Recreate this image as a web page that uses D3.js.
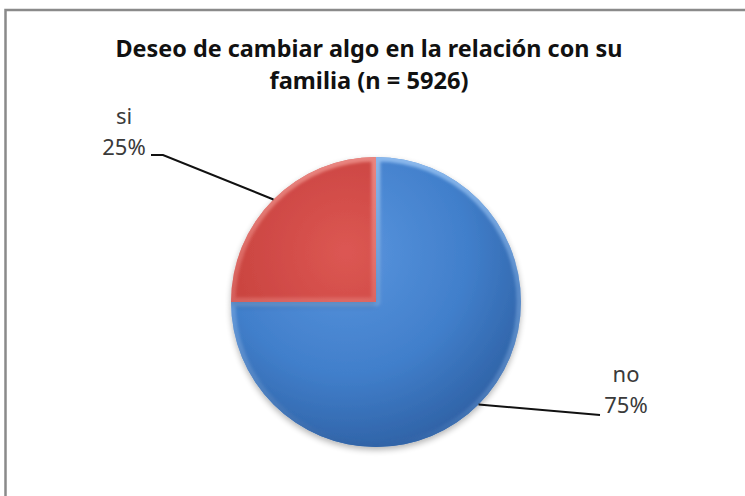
<!DOCTYPE html>
<html>
<head>
<meta charset="utf-8">
<script src="https://cdn.jsdelivr.net/npm/d3@7"></script>
<style>
  html, body { margin: 0; padding: 0; background: #fff; }
  svg { display: block; }
</style>
</head>
<body>
<div id="chart"></div>
<script>
// data
const categories = ["no", "si"];
const values = [75, 25];
const percentLabels = ["75%", "25%"];
const titleLines = ["Deseo de cambiar algo en la relación con su", "familia (n = 5926)"];

const width = 745;
const height = 496;
const cx = 376, cy = 302, radius = 145;

const svg = d3.select("#chart").append("svg")
    .attr("width", width)
    .attr("height", height);

// frame (only top and left visible in the crop)
svg.append("path")
    .attr("d", `M5.5,${height} L5.5,10 L${width},10`)
    .attr("fill", "none")
    .attr("stroke", "#8a8a8a")
    .attr("stroke-width", 2.5);

const defs = svg.append("defs");

const palette = {
    no: { light: "#5a95de", mid: "#417fcb", dark: "#2f62a6", edge: "#9cc6f5" },
    si: { light: "#dc5753", mid: "#c9433f", dark: "#a03330", edge: "#f09690" }
};

// gradients live in the pie group's coordinates (centre at 0,0)
categories.forEach(c => {
    const p = palette[c];
    const g = defs.append("radialGradient")
        .attr("id", "grad-" + c)
        .attr("gradientUnits", "userSpaceOnUse")
        .attr("cx", -30).attr("cy", -50)
        .attr("r", radius * 1.4);
    g.append("stop").attr("offset", "0%").attr("stop-color", p.light);
    g.append("stop").attr("offset", "60%").attr("stop-color", p.mid);
    g.append("stop").attr("offset", "100%").attr("stop-color", p.dark);

    const e = defs.append("linearGradient")
        .attr("id", "edge-" + c)
        .attr("gradientUnits", "userSpaceOnUse")
        .attr("x1", 0).attr("y1", -radius)
        .attr("x2", 0).attr("y2", radius);
    e.append("stop").attr("offset", "0%").attr("stop-color", p.edge).attr("stop-opacity", 0.8);
    e.append("stop").attr("offset", "45%").attr("stop-color", p.edge).attr("stop-opacity", 0.35);
    e.append("stop").attr("offset", "100%").attr("stop-color", p.dark).attr("stop-opacity", 0.9);
});

const shadow = defs.append("filter").attr("id", "shadow")
    .attr("x", "-20%").attr("y", "-20%").attr("width", "140%").attr("height", "150%");
shadow.append("feGaussianBlur").attr("in", "SourceAlpha").attr("stdDeviation", 3);
shadow.append("feOffset").attr("dx", 0).attr("dy", 3).attr("result", "b");
shadow.append("feComponentTransfer").append("feFuncA").attr("type", "linear").attr("slope", 0.3);
const merge = shadow.append("feMerge");
merge.append("feMergeNode");
merge.append("feMergeNode").attr("in", "SourceGraphic");

const soften = defs.append("filter").attr("id", "soften");
soften.append("feGaussianBlur").attr("stdDeviation", 1.6);

const pie = d3.pie().sort(null).value(d => d.value);
const slices = pie(categories.map((c, i) => ({ name: c, value: values[i], label: percentLabels[i] })));

const arc = d3.arc().innerRadius(0).outerRadius(radius);
const rimArc = d3.arc().innerRadius(radius).outerRadius(radius);

const pieG = svg.append("g")
    .attr("transform", `translate(${cx},${cy})`);

slices.forEach((d, i) => {
    defs.append("clipPath").attr("id", "clip-" + i)
        .append("path").attr("d", arc(d));
});

pieG.selectAll("path.slice")
    .data(slices)
    .join("path")
    .attr("class", "slice")
    .attr("filter", "url(#shadow)")
    .attr("d", arc)
    .attr("fill", d => `url(#grad-${d.data.name})`);

// bevel edge, clipped inside each slice
pieG.selectAll("g.bevel")
    .data(slices)
    .join("g")
    .attr("class", "bevel")
    .attr("clip-path", (d, i) => `url(#clip-${i})`)
    .append("path")
    .attr("d", arc)
    .attr("fill", "none")
    .attr("stroke", d => `url(#edge-${d.data.name})`)
    .attr("stroke-width", 9)
    .attr("stroke-linejoin", "round")
    .attr("filter", "url(#soften)");

// leader lines and labels
const labelLayout = {
    no: { bend: [600, 415], textX: 626, line1: 382, line2: 413 },
    si: { bend: [163, 155], end: [151, 155], textX: 124, line1: 124, line2: 155 }
};

slices.forEach(d => {
    const lay = labelLayout[d.data.name];
    const [px, py] = rimArc.centroid(d);
    const pts = [[cx + px, cy + py], lay.bend];
    if (lay.end) pts.push(lay.end);
    svg.append("path")
        .attr("d", d3.line()(pts))
        .attr("fill", "none")
        .attr("stroke", "#111")
        .attr("stroke-width", 2);

    const t = svg.append("text")
        .attr("text-anchor", "middle")
        .attr("font-family", "'Noto Sans', 'Open Sans', sans-serif")
        .attr("font-size", 22)
        .attr("fill", "#3a3a3a");
    t.append("tspan").attr("x", lay.textX).attr("y", lay.line1).text(d.data.name);
    t.append("tspan").attr("x", lay.textX).attr("y", lay.line2).text(d.data.label);
});

// title
const titleLen = [507, 199];
const titleY = [57, 89];
svg.selectAll("text.title")
    .data(titleLines)
    .join("text")
    .attr("class", "title")
    .attr("x", 369)
    .attr("y", (d, i) => titleY[i])
    .attr("text-anchor", "middle")
    .attr("font-family", "'Noto Sans', 'Open Sans', sans-serif")
    .attr("font-weight", "bold")
    .attr("font-size", 24)
    .attr("fill", "#111")
    .attr("textLength", (d, i) => titleLen[i])
    .attr("lengthAdjust", "spacingAndGlyphs")
    .text(d => d);
</script>
</body>
</html>
